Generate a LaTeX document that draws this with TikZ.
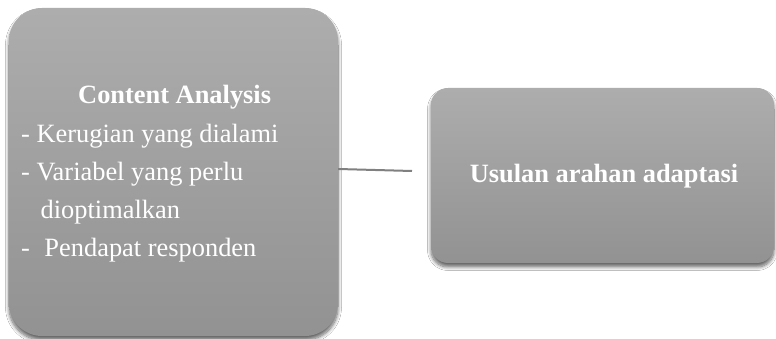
\documentclass[tikz,border=0pt]{standalone}
\usepackage{fontspec}
\setmainfont{Liberation Serif}
\usetikzlibrary{shadows.blur}
\definecolor{boxtop}{HTML}{ADADAD}
\definecolor{boxbot}{HTML}{929292}
\definecolor{linegray}{HTML}{808080}
\tikzset{
  box/.style={draw=none, top color=boxtop, bottom color=boxbot,
    blur shadow={shadow xshift=0pt, shadow yshift=-4pt, shadow blur radius=3.5pt, shadow blur steps=8, shadow opacity=60},
    inner sep=0pt},
  txt/.style={text=white, inner sep=0pt, anchor=base west, font=\fontsize{26.4}{38}\selectfont},
  btxt/.style={txt, font=\fontsize{26.4}{38}\selectfont\bfseries},
  conn/.style={draw=linegray, line width=2pt}
}
\begin{document}
\begin{tikzpicture}[x=1pt,y=1pt]
\useasboundingbox[fill=white] (0,0) rectangle (776,339);
\node[box, minimum width=329pt, minimum height=328pt, rounded corners=33pt] (L) at (173.5,167) {};
\node[box, minimum width=343pt, minimum height=175pt, rounded corners=17pt] (R) at (602.5,163.5) {};
\node[btxt] (t1) at (78,235) {Content Analysis};
\node[txt] (t2) at (21,196.5) {- Kerugian yang dialami};
\node[txt] (t3) at (21,158.5) {- Variabel yang perlu};
\node[txt] (t4) at (40.5,120.7) {dioptimalkan};
\node[txt] (t5) at (21,82.3) {-\hspace{14.5pt}Pendapat responden};
\node[btxt, anchor=base] (r1) at (604,156) {Usulan arahan adaptasi};
\coordinate (E) at (412,168);
\draw[conn] ([yshift=3pt]L.east) -- (E);
\end{tikzpicture}
\end{document}
